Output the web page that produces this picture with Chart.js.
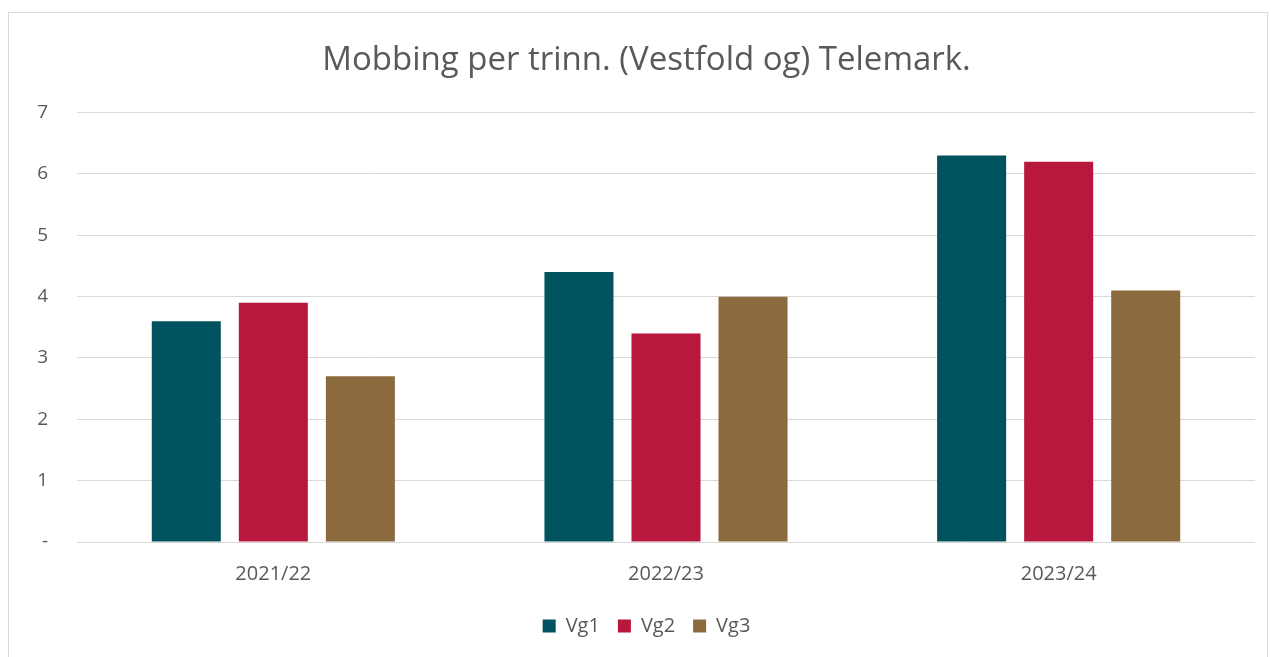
<!DOCTYPE html>
<html>
<head>
<meta charset="utf-8">
<script src="https://cdn.jsdelivr.net/npm/chart.js@4"></script>
<style>
html,body{margin:0;padding:0;background:#fff;}
#wrap{position:relative;width:1271px;height:657px;}
</style>
</head>
<body>
<div id="wrap"><canvas id="c" width="1271" height="657"></canvas></div>
<script>
const categories = ["2021/22", "2022/23", "2023/24"];
const vg1 = [3.6, 4.4, 6.3];
const vg2 = [3.9, 3.4, 6.2];
const vg3 = [2.7, 4.0, 4.1];
const seriesNames = ["Vg1", "Vg2", "Vg3"];
const yTickLabels = {0: "-", 1: "1", 2: "2", 3: "3", 4: "4", 5: "5", 6: "6", 7: "7"};
const colors = ["#00525E", "#B8183D", "#8B6B3E"];
const FONT = "'Open Sans', 'Liberation Sans', sans-serif";
const TXT = "#595959";

const framePlugin = {
  id: 'frame',
  beforeDraw(chart) {
    const ctx = chart.ctx;
    ctx.save();
    ctx.fillStyle = '#fff';
    ctx.fillRect(0, 0, chart.width, chart.height);
    ctx.strokeStyle = '#d9d9d9';
    ctx.lineWidth = 1;
    ctx.strokeRect(8.5, 12.5, 1259, 660);
    ctx.restore();
  }
};

new Chart(document.getElementById('c'), {
  type: 'bar',
  data: {
    labels: categories,
    datasets: [
      {label: seriesNames[0], data: vg1, backgroundColor: colors[0]},
      {label: seriesNames[1], data: vg2, backgroundColor: colors[1]},
      {label: seriesNames[2], data: vg3, backgroundColor: colors[2]}
    ]
  },
  options: {
    responsive: false,
    animation: false,
    layout: {padding: {left: 38, right: 16, top: 41, bottom: 11}},
    datasets: {bar: {categoryPercentage: 0.665, barPercentage: 0.793}},
    plugins: {
      title: {
        display: true,
        text: 'Mobbing per trinn. (Vestfold og) Telemark.',
        color: TXT,
        font: {family: FONT, size: 33, weight: 'normal'},
        padding: {top: 0, bottom: 32}
      },
      legend: {
        position: 'bottom',
        labels: {
          color: TXT,
          font: {family: FONT, size: 20},
          boxWidth: 13, boxHeight: 13,
          padding: 18
        }
      },
      tooltip: {enabled: false}
    },
    scales: {
      x: {
        grid: {display: false},
        border: {display: false},
        ticks: {color: TXT, font: {family: FONT, size: 20}, padding: 12}
      },
      y: {
        min: 0, max: 7,
        afterFit(s) { s.width = 39; },
        grid: {color: '#d9d9d9', lineWidth: 1, drawTicks: false},
        border: {display: false},
        ticks: {
          stepSize: 1,
          color: TXT,
          font: {family: FONT, size: 19},
          padding: 29,
          callback: v => yTickLabels[v]
        }
      }
    }
  },
  plugins: [framePlugin]
});
</script>
</body>
</html>
